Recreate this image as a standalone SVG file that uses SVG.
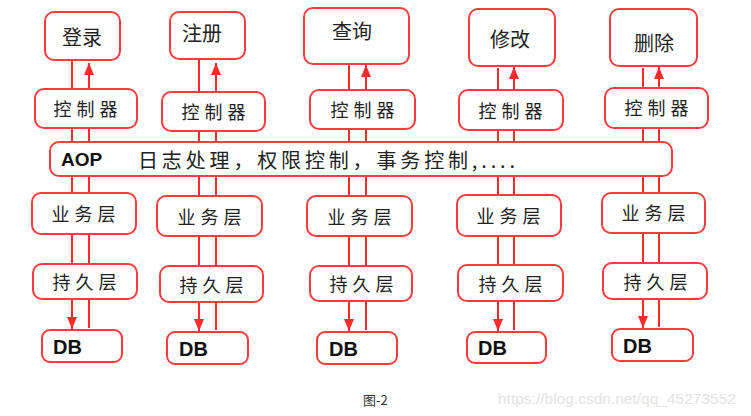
<svg xmlns="http://www.w3.org/2000/svg" width="751" height="416" viewBox="0 0 751 416">
<defs>
<style>
.box{fill:#fff;stroke:#ff3b3b;stroke-width:2}
.ln{stroke:#ff2a2a;stroke-width:2;fill:none}
.cn{font-family:"Noto Sans CJK SC",sans-serif;fill:#222;text-anchor:middle;dominant-baseline:central}
.t20{font-size:20px}
.t18{font-size:18px;letter-spacing:5px}
.b{font-family:"Liberation Sans",Arial,sans-serif;font-weight:bold;font-size:20px;fill:#111;dominant-baseline:central}
</style>
<marker id="ah" viewBox="0 0 12 10" refX="12" refY="5" markerWidth="12" markerHeight="10" orient="auto" markerUnits="userSpaceOnUse">
<path d="M0,0 L12,5 L0,10 z" fill="#ff2a2a"/>
</marker>
</defs>
<rect width="751" height="416" fill="#fff"/>
<g id="connectors">
<line class="ln" x1="72" y1="60" x2="72" y2="329" marker-end="url(#ah)"/>
<line class="ln" x1="89" y1="328" x2="89" y2="63" marker-end="url(#ah)"/>
<line class="ln" x1="199" y1="60" x2="199" y2="331" marker-end="url(#ah)"/>
<line class="ln" x1="216" y1="330" x2="216" y2="63" marker-end="url(#ah)"/>
<line class="ln" x1="349" y1="64" x2="349" y2="331" marker-end="url(#ah)"/>
<line class="ln" x1="366" y1="330" x2="366" y2="65" marker-end="url(#ah)"/>
<line class="ln" x1="498" y1="68" x2="498" y2="331" marker-end="url(#ah)"/>
<line class="ln" x1="514" y1="330" x2="514" y2="67" marker-end="url(#ah)"/>
<line class="ln" x1="643" y1="68" x2="643" y2="328" marker-end="url(#ah)"/>
<line class="ln" x1="659" y1="327" x2="659" y2="67" marker-end="url(#ah)"/>
</g>
<g id="login"><rect class="box" x="45" y="12" width="75" height="48" rx="9"/><text class="cn t20" x="82" y="36">登录</text></g>
<g id="register"><rect class="box" x="170" y="12" width="75" height="47" rx="9"/><text class="cn t20" x="202" y="32">注册</text></g>
<g id="query"><rect class="box" x="304" y="8" width="105" height="56" rx="9"/><text class="cn t20" x="352" y="30">查询</text></g>
<g id="modify"><rect class="box" x="469" y="9" width="86" height="57" rx="9"/><text class="cn t20" x="510" y="38">修改</text></g>
<g id="delete"><rect class="box" x="610" y="9" width="87" height="57" rx="9"/><text class="cn t20" x="654" y="42">删除</text></g>
<g id="ctrl1"><rect class="box" x="35" y="89" width="102" height="39" rx="9"/><text class="cn t18" x="88" y="108">控制器</text></g>
<g id="ctrl2"><rect class="box" x="162" y="92" width="103" height="39" rx="9"/><text class="cn t18" x="216" y="111">控制器</text></g>
<g id="ctrl3"><rect class="box" x="310" y="90" width="105" height="39" rx="9"/><text class="cn t18" x="365" y="109">控制器</text></g>
<g id="ctrl4"><rect class="box" x="459" y="90" width="104" height="40" rx="9"/><text class="cn t18" x="513" y="110">控制器</text></g>
<g id="ctrl5"><rect class="box" x="605" y="88" width="103" height="40" rx="9"/><text class="cn t18" x="659" y="107">控制器</text></g>
<g id="aop"><rect class="box" x="50" y="142" width="622" height="34" rx="9"/>
<text class="b" x="61" y="159" style="font-size:19px">AOP</text>
<text class="cn" x="138" y="159" style="text-anchor:start;font-size:20px" textLength="377" lengthAdjust="spacing">日志处理，权限控制，事务控制,....</text></g>
<g id="svc1"><rect class="box" x="32" y="193" width="104" height="41" rx="9"/><text class="cn t18" x="86" y="213">业务层</text></g>
<g id="svc2"><rect class="box" x="157" y="196" width="105" height="40" rx="9"/><text class="cn t18" x="212" y="216">业务层</text></g>
<g id="svc3"><rect class="box" x="307" y="196" width="105" height="40" rx="9"/><text class="cn t18" x="362" y="216">业务层</text></g>
<g id="svc4"><rect class="box" x="457" y="195" width="104" height="41" rx="9"/><text class="cn t18" x="511" y="215">业务层</text></g>
<g id="svc5"><rect class="box" x="602" y="193" width="103" height="40" rx="9"/><text class="cn t18" x="656" y="212">业务层</text></g>
<g id="dao1"><rect class="box" x="33" y="264" width="104" height="35" rx="9"/><text class="cn t18" x="87" y="281">持久层</text></g>
<g id="dao2"><rect class="box" x="160" y="266" width="103" height="36" rx="9"/><text class="cn t18" x="214" y="284">持久层</text></g>
<g id="dao3"><rect class="box" x="310" y="266" width="102" height="35" rx="9"/><text class="cn t18" x="364" y="283">持久层</text></g>
<g id="dao4"><rect class="box" x="458" y="265" width="105" height="36" rx="9"/><text class="cn t18" x="513" y="283">持久层</text></g>
<g id="dao5"><rect class="box" x="603" y="263" width="104" height="36" rx="9"/><text class="cn t18" x="658" y="281">持久层</text></g>
<g id="db1"><rect class="box" x="42" y="330" width="80" height="32" rx="8"/><text class="b" x="53" y="347">DB</text></g>
<g id="db2"><rect class="box" x="167" y="332" width="81" height="32" rx="8"/><text class="b" x="179" y="349">DB</text></g>
<g id="db3"><rect class="box" x="317" y="332" width="80" height="32" rx="8"/><text class="b" x="329" y="349">DB</text></g>
<g id="db4"><rect class="box" x="467" y="332" width="79" height="31" rx="8"/><text class="b" x="478" y="348">DB</text></g>
<g id="db5"><rect class="box" x="612" y="329" width="81" height="32" rx="8"/><text class="b" x="623" y="346">DB</text></g>
<text x="363" y="405" style="font-family:'Noto Sans CJK SC',sans-serif;font-size:13px;fill:#333">图-2</text>
<text x="498" y="404" style="font-family:'Liberation Sans',Arial,sans-serif;font-size:15.5px;fill:#e3e3e3">https://blog.csdn.net/qq_45273552</text>
</svg>
